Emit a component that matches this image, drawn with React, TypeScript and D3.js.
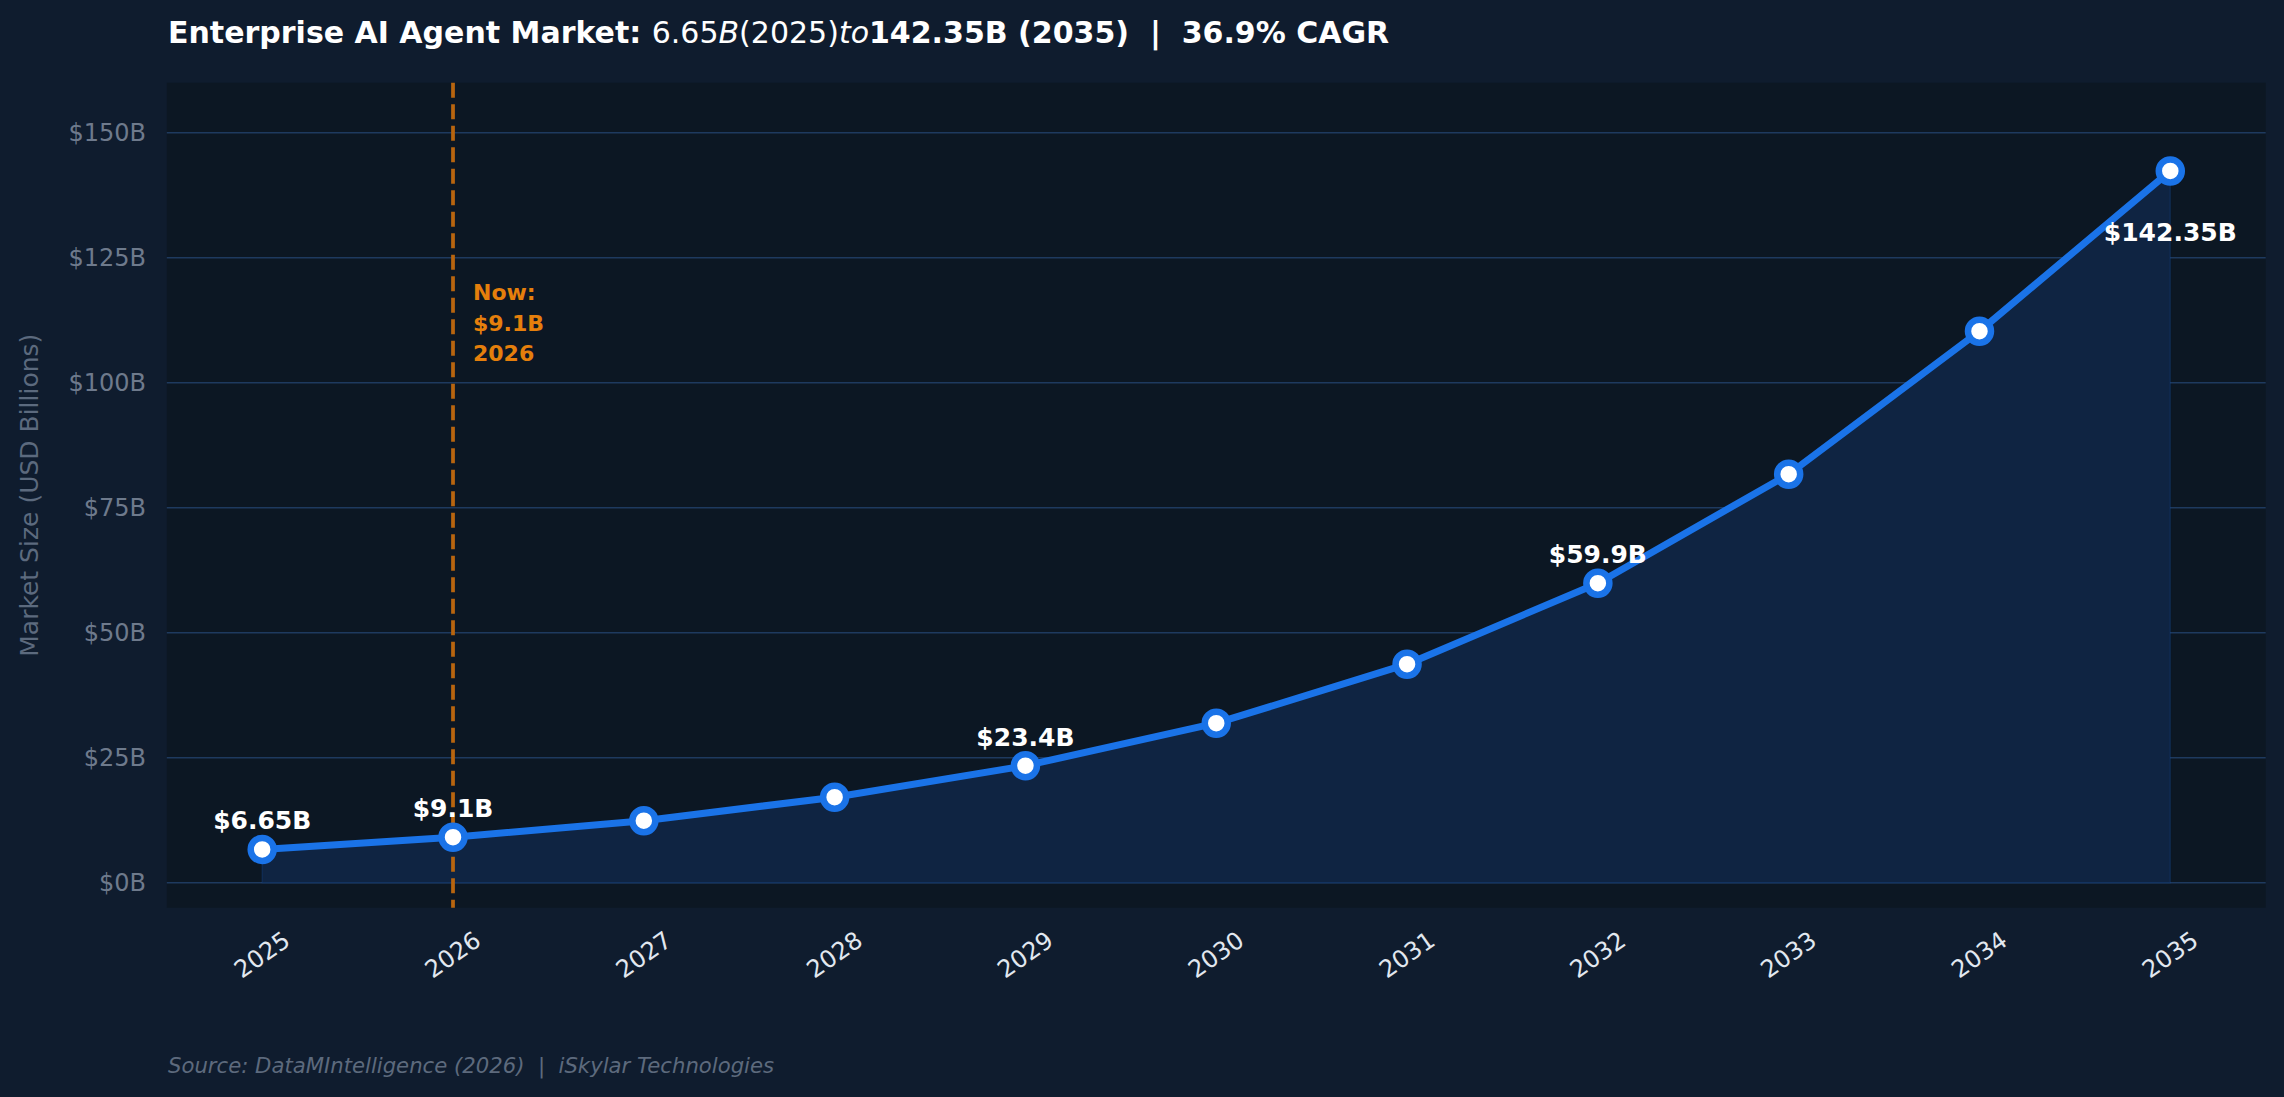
import { useEffect } from "react"
import * as d3 from "d3"

// Market values (USD billions)
const years = [2025, 2026, 2027, 2028, 2029, 2030, 2031, 2032, 2033, 2034, 2035]
const marketSize = [6.65, 9.1, 12.4, 17.1, 23.4, 31.9, 43.7, 59.9, 81.7, 110.3, 142.35]
const yTicks = [0, 25, 50, 75, 100, 125, 150]
const labelledYears = [2025, 2026, 2029, 2032, 2035]
const nowYear = 2026
const nowLines = ["Now:", "$9.1B", "2026"]

const W = 2284
const H = 1097
const FONT = "'DejaVu Sans', sans-serif"

export default function App() {
  useEffect(() => {
    document.body.style.margin = "0"
    document.body.style.background = "#0f1c2e"
  }, [])

  const left = 166.8
  const right = 2265.7
  const top = 82.7
  const bottom = 907.7

  const x = d3.scaleLinear().domain([2024.5, 2035.5]).range([left, right])
  const y = d3.scaleLinear().domain([-5, 160]).range([bottom, top])

  const points = years.map((yr, i) => ({ yr, v: marketSize[i] }))

  const line = d3
    .line<{ yr: number; v: number }>()
    .x((d) => x(d.yr))
    .y((d) => y(d.v))

  const area = d3
    .area<{ yr: number; v: number }>()
    .x((d) => x(d.yr))
    .y0(y(0))
    .y1((d) => y(d.v))

  return (
    <svg width={W} height={H} style={{ display: "block", fontFamily: FONT }}>
      <rect x={0} y={0} width={W} height={H} fill="#0f1c2e" />
      <rect x={left} y={top} width={right - left} height={bottom - top} fill="#0c1723" />

      {/* grid */}
      {yTicks.map((t) => (
        <line key={t} x1={left} x2={right} y1={y(t)} y2={y(t)} stroke="#1e3a5f" strokeWidth={1.6} />
      ))}

      {/* area under the curve */}
      <path d={area(points) || ""} fill="#0f2442" stroke="#1a73e8" strokeOpacity={0.15} strokeWidth={1.5} />

      {/* now marker */}
      <line
        x1={x(nowYear)}
        x2={x(nowYear)}
        y1={top}
        y2={bottom}
        stroke="#b8650f"
        strokeWidth={3.75}
        strokeDasharray="15 6.5"
      />
      <text x={x(nowYear) + 20} y={300} fill="#e57f0c" fontSize={22} fontWeight="bold">
        {nowLines.map((s, i) => (
          <tspan key={i} x={x(nowYear) + 20} y={300 + i * 30.5}>
            {s}
          </tspan>
        ))}
      </text>

      {/* line + markers */}
      <path d={line(points) || ""} fill="none" stroke="#1a73e8" strokeWidth={7} strokeLinejoin="round" />
      {points.map((p) => (
        <circle key={p.yr} cx={x(p.yr)} cy={y(p.v)} r={11.5} fill="#ffffff" stroke="#1a73e8" strokeWidth={6.5} />
      ))}

      {/* value labels */}
      {points
        .filter((p) => labelledYears.includes(p.yr))
        .map((p, i, arr) => {
          const last = i === arr.length - 1
          return (
            <text
              key={p.yr}
              x={x(p.yr)}
              y={y(p.v) + (last ? 70 : -20)}
              textAnchor="middle"
              fill="#ffffff"
              fontSize={25}
              fontWeight="bold"
            >
              {`$${p.v}B`}
            </text>
          )
        })}

      {/* y axis ticks */}
      {yTicks.map((t) => (
        <text
          key={t}
          x={146}
          y={y(t)}
          dy="0.36em"
          textAnchor="end"
          fill="#6e7a8c"
          fontSize={24}
        >
          {`$${t}B`}
        </text>
      ))}
      <text
        transform={`translate(29, ${(top + bottom) / 2}) rotate(-90)`}
        textAnchor="middle"
        dominantBaseline="central"
        fill="#5c6a7e"
        fontSize={25}
      >
        Market Size (USD Billions)
      </text>

      {/* x axis ticks */}
      {years.map((yr) => (
        <text
          key={yr}
          x={x(yr)}
          y={955}
          textAnchor="middle"
          dominantBaseline="central"
          transform={`rotate(-35, ${x(yr)}, 955)`}
          fill="#e2e8f0"
          fontSize={24}
        >
          {yr}
        </text>
      ))}

      {/* title */}
      <text x={168} y={43} fill="#ffffff" fontSize={30} style={{ whiteSpace: "pre" }}>
        <tspan fontWeight="bold">Enterprise AI Agent Market: </tspan>
        <tspan>6.65</tspan>
        <tspan fontStyle="italic">B</tspan>
        <tspan>(2025)</tspan>
        <tspan fontStyle="italic">to</tspan>
        <tspan fontWeight="bold">142.35B (2035)  |  36.9% CAGR</tspan>
      </text>

      {/* source */}
      <text x={168} y={1073} fill="#5d6a7d" fontSize={21.2} fontStyle="italic" style={{ whiteSpace: "pre" }}>
        Source: DataMIntelligence (2026)  |  iSkylar Technologies
      </text>
    </svg>
  )
}
